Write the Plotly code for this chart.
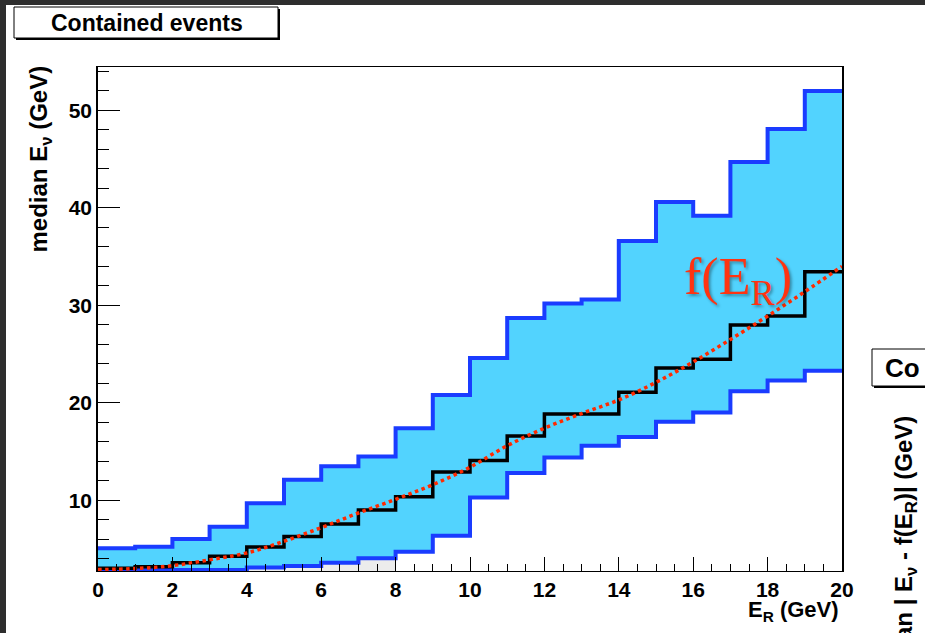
import plotly.graph_objects as go

# ---------------- data ----------------
bin_edges = list(range(0, 21))  # E_R (GeV) bin edges
upper_band = [5.08, 5.24, 6.03, 7.3, 9.7, 12.1, 13.5, 14.5, 17.4, 20.8,
              24.6, 28.7, 30.2, 30.6, 36.6, 40.6, 39.2, 44.7, 48.1, 52.0]
lower_band = [2.85, 2.85, 2.85, 2.85, 3.1, 3.26, 3.6, 4.05, 4.73, 6.37,
              10.3, 12.8, 14.4, 15.6, 16.5, 18.06, 19.0, 21.2, 22.3, 23.3]
median_ev = [3.03, 3.19, 3.6, 4.26, 5.2, 6.3, 7.56, 9.0, 10.37, 12.9,
             14.08, 16.6, 18.85, 18.85, 21.08, 23.57, 24.46, 27.98, 28.9, 33.45]
grey_bins = [4, 5, 6, 7, 8]
grey_vals = [3.1, 3.26, 3.6, 4.05]

f_x = list(range(0, 21))
f_y = [2.9, 3.0, 3.3, 3.9, 4.6, 5.8, 7.2, 8.7, 10.1, 11.6, 13.4,
       15.6, 17.4, 18.9, 20.3, 22.1, 24.2, 26.5, 28.9, 31.4, 34.0]

x_ticks = [0, 2, 4, 6, 8, 10, 12, 14, 16, 18, 20]
y_ticks = [10, 20, 30, 40, 50]

# ---------------- geometry ----------------
FIG_W, FIG_H = 925, 633
L, R, T, B = 98, 842, 67, 571
PW, PH = R - L, B - T


def px_x(x):
    return (x - L) / PW


def px_y(y):
    return (B - y) / PH


CYAN = "#52d3fe"
BLUE = "#1a3cff"
RED = "#ff2a00"


def step_y(vals):
    return list(vals) + [vals[-1]]


fig = go.Figure()
# fills
fig.add_trace(go.Scatter(x=bin_edges, y=step_y(upper_band), mode="lines",
                         line=dict(shape="hv", width=0), fill="tozeroy",
                         fillcolor=CYAN, hoverinfo="skip"))
fig.add_trace(go.Scatter(x=bin_edges, y=step_y(lower_band), mode="lines",
                         line=dict(shape="hv", width=0), fill="tozeroy",
                         fillcolor="white", hoverinfo="skip"))
fig.add_trace(go.Scatter(x=grey_bins, y=step_y(grey_vals), mode="lines",
                         line=dict(shape="hv", width=0), fill="tozeroy",
                         fillcolor="#ececec", hoverinfo="skip"))
# lines
fig.add_trace(go.Scatter(x=bin_edges, y=step_y(upper_band), mode="lines",
                         line=dict(shape="hv", width=4, color=BLUE)))
fig.add_trace(go.Scatter(x=bin_edges, y=step_y(lower_band), mode="lines",
                         line=dict(shape="hv", width=4, color=BLUE)))
fig.add_trace(go.Scatter(x=bin_edges, y=step_y(median_ev), mode="lines",
                         line=dict(shape="hv", width=3.5, color="black")))
fig.add_trace(go.Scatter(x=f_x, y=f_y, mode="lines",
                         line=dict(shape="spline", width=3.5, color=RED, dash="dot")))

tickfont = dict(family="Liberation Sans, Arial", size=21, color="black", weight="bold")

fig.update_layout(
    width=FIG_W, height=FIG_H,
    margin=dict(l=L, r=FIG_W - R, t=T, b=FIG_H - B, pad=0),
    paper_bgcolor="white", plot_bgcolor="white",
    showlegend=False,
    xaxis=dict(range=[0, 20], tickvals=x_ticks, ticks="inside", ticklen=14,
               tickwidth=1, tickcolor="black", showline=True, linecolor="black",
               linewidth=1, mirror=True, showgrid=False, zeroline=False,
               tickfont=tickfont,
               minor=dict(dtick=0.5, tick0=0, ticks="inside", ticklen=7,
                          tickcolor="black", tickwidth=1, showgrid=False)),
    yaxis=dict(range=[2.75, 54.45], tickvals=y_ticks, ticks="inside", ticklen=22,
               tickwidth=1, tickcolor="black", showline=True, linecolor="black",
               linewidth=1.5, mirror=True, showgrid=False, zeroline=False,
               tickfont=tickfont,
               minor=dict(dtick=2, tick0=0, ticks="inside", ticklen=11,
                          tickcolor="black", tickwidth=1, showgrid=False)),
)

shapes = [
    # dark screenshot border
    dict(type="rect", xref="paper", yref="paper", x0=px_x(0), x1=px_x(6),
         y0=px_y(FIG_H), y1=px_y(0), fillcolor="#2e2e2e", line=dict(width=0)),
    dict(type="rect", xref="paper", yref="paper", x0=px_x(0), x1=px_x(FIG_W),
         y0=px_y(5), y1=px_y(0), fillcolor="#2e2e2e", line=dict(width=0)),
    # title box with shadow
    dict(type="rect", xref="paper", yref="paper", x0=px_x(16), x1=px_x(280),
         y0=px_y(40), y1=px_y(9), fillcolor="black", line=dict(width=0)),
    dict(type="rect", xref="paper", yref="paper", x0=px_x(14), x1=px_x(278),
         y0=px_y(38), y1=px_y(7), fillcolor="white", line=dict(width=1, color="black")),
    # neighbouring panel title box
    dict(type="rect", xref="paper", yref="paper", x0=px_x(874), x1=px_x(935),
         y0=px_y(388), y1=px_y(351), fillcolor="black", line=dict(width=0)),
    dict(type="rect", xref="paper", yref="paper", x0=px_x(872), x1=px_x(933),
         y0=px_y(386), y1=px_y(349), fillcolor="white", line=dict(width=1, color="black")),
]
fig.update_layout(shapes=shapes)

bold = dict(family="Liberation Sans, Arial", color="black", weight="bold")
annotations = [
    dict(text="Contained events", x=px_x(147), y=px_y(22.5), xref="paper", yref="paper",
         showarrow=False, xanchor="center", yanchor="middle", font=dict(size=23, **bold)),
    dict(text="median E<sub>ν</sub> (GeV)", x=px_x(40), y=px_y(64), xref="paper",
         yref="paper", showarrow=False, textangle=-90, xanchor="center", yanchor="top",
         font=dict(size=24, **bold)),
    dict(text="E<sub>R</sub> (GeV)", x=px_x(841), y=px_y(611), xref="paper", yref="paper",
         showarrow=False, xanchor="right", yanchor="middle", font=dict(size=22, **bold)),
    dict(text="f(E<sub>R</sub>)", x=px_x(682), y=px_y(280), xref="paper", yref="paper",
         showarrow=False, xanchor="left", yanchor="middle",
         font=dict(family="Liberation Serif, Times New Roman", size=52, color="#ff3311",
                   shadow="2px 2px 3px rgba(0,0,0,0.35)")),
    dict(text="Co", x=px_x(883), y=px_y(368), xref="paper", yref="paper",
         showarrow=False, xanchor="left", yanchor="middle", font=dict(size=26, **bold)),
    dict(text="median | E<sub>ν</sub> - f(E<sub>R</sub>)| (GeV)", x=px_x(905),
         y=px_y(414), xref="paper", yref="paper", showarrow=False, textangle=-90,
         xanchor="center", yanchor="top", font=dict(size=24, **bold)),
]
fig.update_layout(annotations=annotations)

fig.write_html("out.html", config={"displayModeBar": False},
               post_script="document.body.style.margin='0';document.body.style.overflow='hidden';")
